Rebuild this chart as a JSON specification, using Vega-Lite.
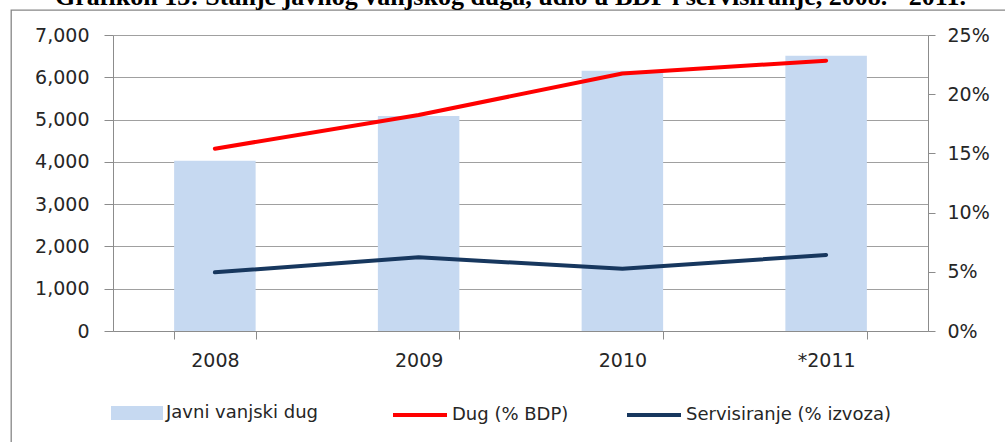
{
  "$schema": "https://vega.github.io/schema/vega-lite/v6.json",
  "autosize": {"type": "none"},
  "padding": {"left": 11, "top": 10, "right": -5, "bottom": -5},
  "width": 999,
  "height": 437,
  "background": "white",
  "title": {
    "text": "Grafikon 13: Stanje javnog vanjskog duga, udio u BDP i servisiranje, 2008. - 2011.",
    "font": "Liberation Serif",
    "fontSize": 26,
    "fontWeight": "bold",
    "color": "#000000",
    "anchor": "middle",
    "offset": 0
  },
  "config": {
    "view": {"stroke": "#868686", "strokeWidth": 1.3, "fill": "white"},
    "axis": {
      "labelFont": "DejaVu Sans",
      "labelFontSize": 19,
      "labelColor": "#262626",
      "domainColor": "#8c8c8c",
      "tickColor": "#8c8c8c",
      "gridColor": "#a0a0a0",
      "title": null
    },
    "legend": {
      "labelFont": "DejaVu Sans",
      "labelFontSize": 18,
      "labelColor": "#262626",
      "labelLimit": 0,
      "title": null
    }
  },
  "datasets": {
    "bars": [
      {"year": "2008", "series": "Javni vanjski dug", "value": 4025},
      {"year": "2009", "series": "Javni vanjski dug", "value": 5085},
      {"year": "2010", "series": "Javni vanjski dug", "value": 6155},
      {"year": "*2011", "series": "Javni vanjski dug", "value": 6510}
    ],
    "lines": [
      {"year": "2008", "series": "Dug (% BDP)", "value": 0.154},
      {"year": "2009", "series": "Dug (% BDP)", "value": 0.1825},
      {"year": "2010", "series": "Dug (% BDP)", "value": 0.2175},
      {"year": "*2011", "series": "Dug (% BDP)", "value": 0.2283},
      {"year": "2008", "series": "Servisiranje (% izvoza)", "value": 0.0496},
      {"year": "2009", "series": "Servisiranje (% izvoza)", "value": 0.0622},
      {"year": "2010", "series": "Servisiranje (% izvoza)", "value": 0.0526},
      {"year": "*2011", "series": "Servisiranje (% izvoza)", "value": 0.0642}
    ]
  },
  "layer": [
    {
      "data": {"name": "bars"},
      "mark": {"type": "bar"},
      "encoding": {
        "x": {
          "field": "year",
          "type": "ordinal",
          "sort": ["2008", "2009", "2010", "*2011"],
          "scale": {"range": [102, 917], "paddingInner": 0.6, "paddingOuter": 0.3},
          "axis": {
            "orient": "bottom",
            "offset": -116,
            "labelAngle": 0,
            "tickBand": "extent",
            "tickSize": 8,
            "labelPadding": 12,
            "grid": false
          }
        },
        "y": {
          "field": "value",
          "type": "quantitative",
          "scale": {"domain": [0, 7000], "range": [321, 25], "nice": false},
          "axis": {
            "orient": "left",
            "offset": -102,
            "values": [0, 1000, 2000, 3000, 4000, 5000, 6000, 7000],
            "format": ",d",
            "tickSize": 9,
            "labelPadding": 15,
            "grid": true
          }
        },
        "color": {
          "field": "series",
          "type": "nominal",
          "scale": {"domain": ["Javni vanjski dug"], "range": ["#c6d9f1"]},
          "legend": {
            "orient": "none",
            "legendX": 100,
            "legendY": 377,
            "symbolType": "M-1,-0.27L1,-0.27L1,0.27L-1,0.27Z",
            "symbolSize": 2704,
            "symbolStrokeWidth": 0,
            "labelOffset": 3
          }
        }
      }
    },
    {
      "data": {"name": "lines"},
      "mark": {"type": "line", "strokeWidth": 4, "strokeCap": "round", "strokeJoin": "round"},
      "encoding": {
        "x": {
          "field": "year",
          "type": "ordinal",
          "sort": ["2008", "2009", "2010", "*2011"]
        },
        "y": {
          "field": "value",
          "type": "quantitative",
          "scale": {"domain": [0, 0.25], "range": [321, 25], "nice": false},
          "axis": {
            "orient": "right",
            "offset": -82,
            "values": [0, 0.05, 0.1, 0.15, 0.2, 0.25],
            "format": ".0%",
            "tickSize": 7,
            "labelPadding": 12,
            "grid": false
          }
        },
        "color": {
          "field": "series",
          "type": "nominal",
          "scale": {"domain": ["Dug (% BDP)", "Servisiranje (% izvoza)"], "range": ["#ff0000", "#17375e"]},
          "legend": {
            "orient": "none",
            "legendX": 380,
            "legendY": 376,
            "direction": "horizontal",
            "symbolType": "stroke",
            "symbolSize": 2916,
            "symbolStrokeWidth": 4,
            "labelOffset": 3,
            "columnPadding": 50
          }
        }
      }
    }
  ],
  "resolve": {"scale": {"y": "independent", "color": "independent"}}
}
